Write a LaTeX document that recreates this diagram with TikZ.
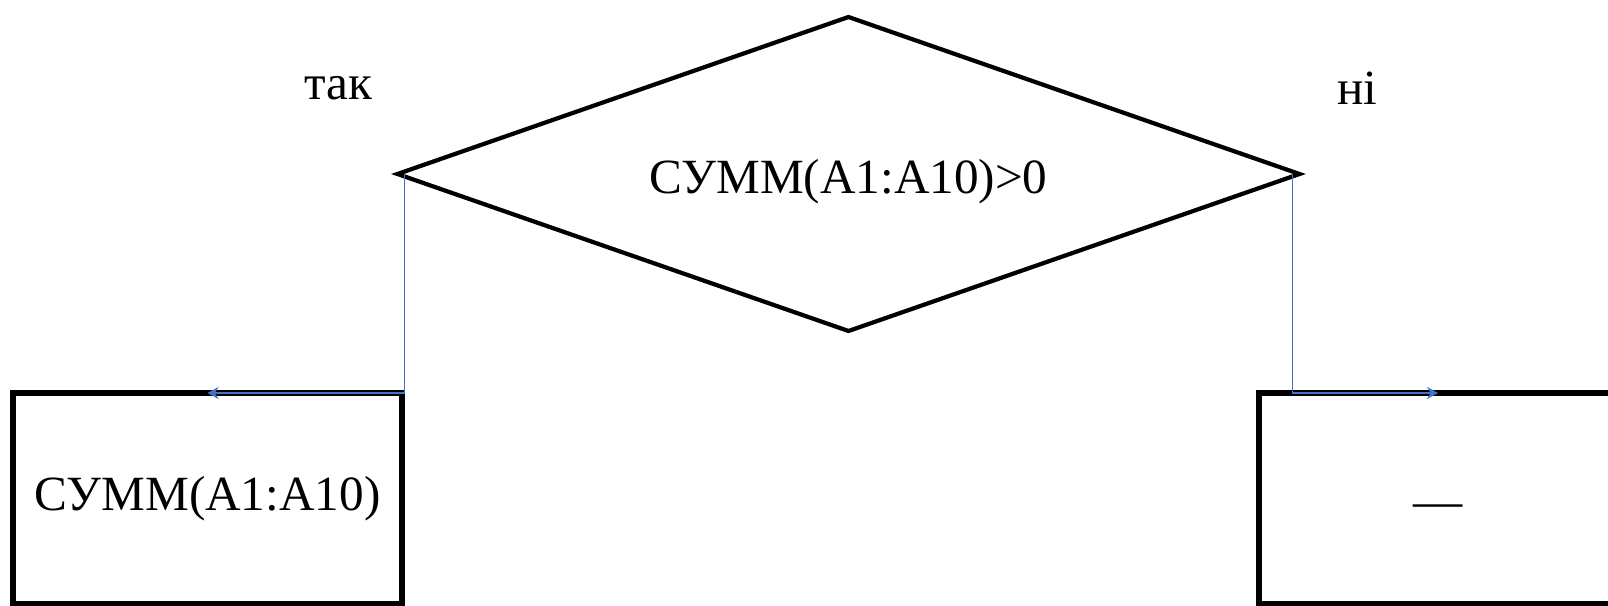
\documentclass[tikz,border=0pt]{standalone}
\usepackage{fontspec}
\setmainfont{Liberation Serif}
\usetikzlibrary{shapes.geometric,arrows.meta}
\definecolor{linkblue}{RGB}{68,114,196}
\pgfdeclarehorizontalshading{edgefade}{100bp}{color(0bp)=(black!5); color(14bp)=(white); color(88bp)=(white); color(100bp)=(black!5)}

\begin{document}
\begin{tikzpicture}[x=0.1mm, y=-0.1mm, font=\fontsize{14}{17}\selectfont,
  cond/.style={diamond, draw, line width=1.2pt, aspect=2.87, minimum width=90.2mm, minimum height=31.4mm, inner sep=0pt, outer sep=0pt},
  box/.style={draw, fill=white, line width=1.5pt, minimum height=21.1mm, inner sep=0pt, outer sep=0pt}]

\useasboundingbox (0,0) rectangle (1608,606);
\shade[shading=edgefade] (0,0) rectangle (1608,606);

\node[cond] (dec) at (848.5,174) {};
\node (dectext) at (848.5,182) {СУММ(A1:A10)>0};

\node[box, minimum width=38.9mm] (yesbox) at (207.5,498.5) {СУММ(A1:A10)};
\node[box, minimum width=35.8mm, label={[yshift=-1.3mm]center:---}] (nobox) at (1438,498.5) {};

\node (yes) at (338,88) {так};
\node (no) at (1357,88) {ні};

% arrows to the branches
\begin{scope}[linkblue, line width=0.5pt, -{Stealth[length=1.1mm,width=1.2mm]}]
\draw ([xshift=0.7mm]dec.west) |- (yesbox.north);
\draw ([xshift=-0.7mm]dec.east) |- (nobox.north);
\end{scope}
\end{tikzpicture}
\end{document}
